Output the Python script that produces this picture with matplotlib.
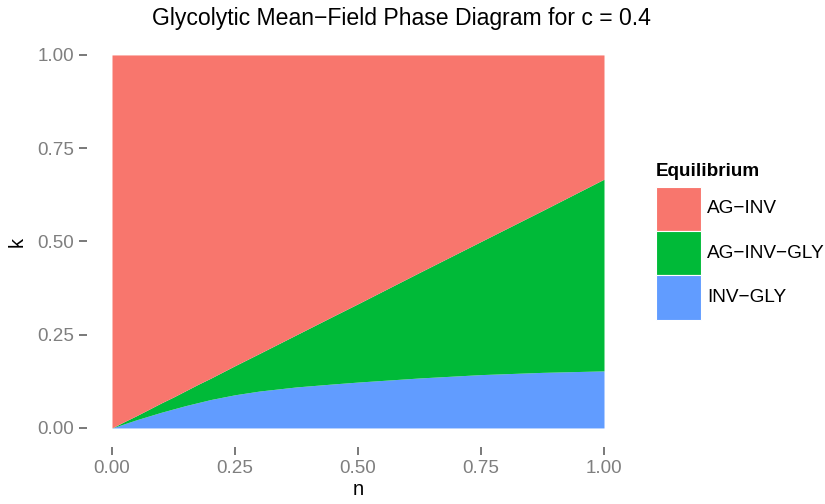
import matplotlib
matplotlib.use("Agg")
import matplotlib.pyplot as plt
from matplotlib.patches import Rectangle

# values
n_vals = [0.0, 0.025, 0.05, 0.075, 0.1, 0.125, 0.15, 0.175, 0.2, 0.25, 0.3,
          0.375, 0.45, 0.5, 0.625, 0.75, 0.875, 1.0]
inv_gly_top = [0.0, 0.011, 0.022, 0.032, 0.042, 0.051, 0.060, 0.068, 0.076,
               0.089, 0.099, 0.110, 0.118, 0.123, 0.134, 0.143, 0.149, 0.153]
ag_inv_gly_top = [0.0, 0.017, 0.033, 0.05, 0.067, 0.083, 0.1, 0.117, 0.133,
                  0.167, 0.2, 0.25, 0.3, 0.333, 0.417, 0.5, 0.583, 0.667]
ag_inv_top = [1.0] * len(n_vals)

labels = ["AG\u2212INV", "AG\u2212INV\u2212GLY", "INV\u2212GLY"]
colors = ["#F8766D", "#00BA38", "#619CFF"]
ticks = [0.0, 0.25, 0.5, 0.75, 1.0]
tick_labels = ["0.00", "0.25", "0.50", "0.75", "1.00"]

plt.rcParams["font.family"] = ["Liberation Sans", "DejaVu Sans"]

W, H = 825, 504
fig = plt.figure(figsize=(W / 100, H / 100), dpi=100)
ax = fig.add_axes([87.4 / W, (H - 446.6) / H, 541.2 / W, 410.3 / H])

zero = [0.0] * len(n_vals)
ax.fill_between(n_vals, zero, inv_gly_top, color=colors[2], lw=0)
ax.fill_between(n_vals, inv_gly_top, ag_inv_gly_top, color=colors[1], lw=0)
ax.fill_between(n_vals, ag_inv_gly_top, ag_inv_top, color=colors[0], lw=0)

ax.set_xlim(-0.05, 1.05)
ax.set_ylim(-0.05, 1.05)
for s in ax.spines.values():
    s.set_visible(False)
ax.set_xticks(ticks)
ax.set_xticklabels(tick_labels)
ax.set_yticks(ticks)
ax.set_yticklabels(tick_labels)
ax.tick_params(length=5.5, width=1.1, color="#555555", labelcolor="#7f7f7f",
               labelsize=13.6, pad=4)

ax.set_xlabel("n", fontsize=14.5, labelpad=2)
ax.set_ylabel("k", fontsize=14.5, labelpad=8)
fig.text(401 / W, 1 - 18 / H, "Glycolytic Mean\u2212Field Phase Diagram for c = 0.4",
         ha="center", va="center", fontsize=16.6)

# legend drawn by hand
fig.text(656 / W, 1 - 171 / H, "Equilibrium", fontsize=13.6, fontweight="bold",
         ha="left", va="center")
key_top = 186.7
key_h = 44.3
for i, (lab, col) in enumerate(zip(labels, colors)):
    y0 = key_top + i * key_h
    fig.patches.append(Rectangle((656 / W, 1 - (y0 + key_h) / H), 45 / W, key_h / H,
                                 transform=fig.transFigure, facecolor=col,
                                 edgecolor="white", lw=0.8))
    fig.text(707 / W, 1 - (y0 + key_h / 2) / H, lab, fontsize=13.7,
             ha="left", va="center")

fig.savefig("out.png", dpi=100)
